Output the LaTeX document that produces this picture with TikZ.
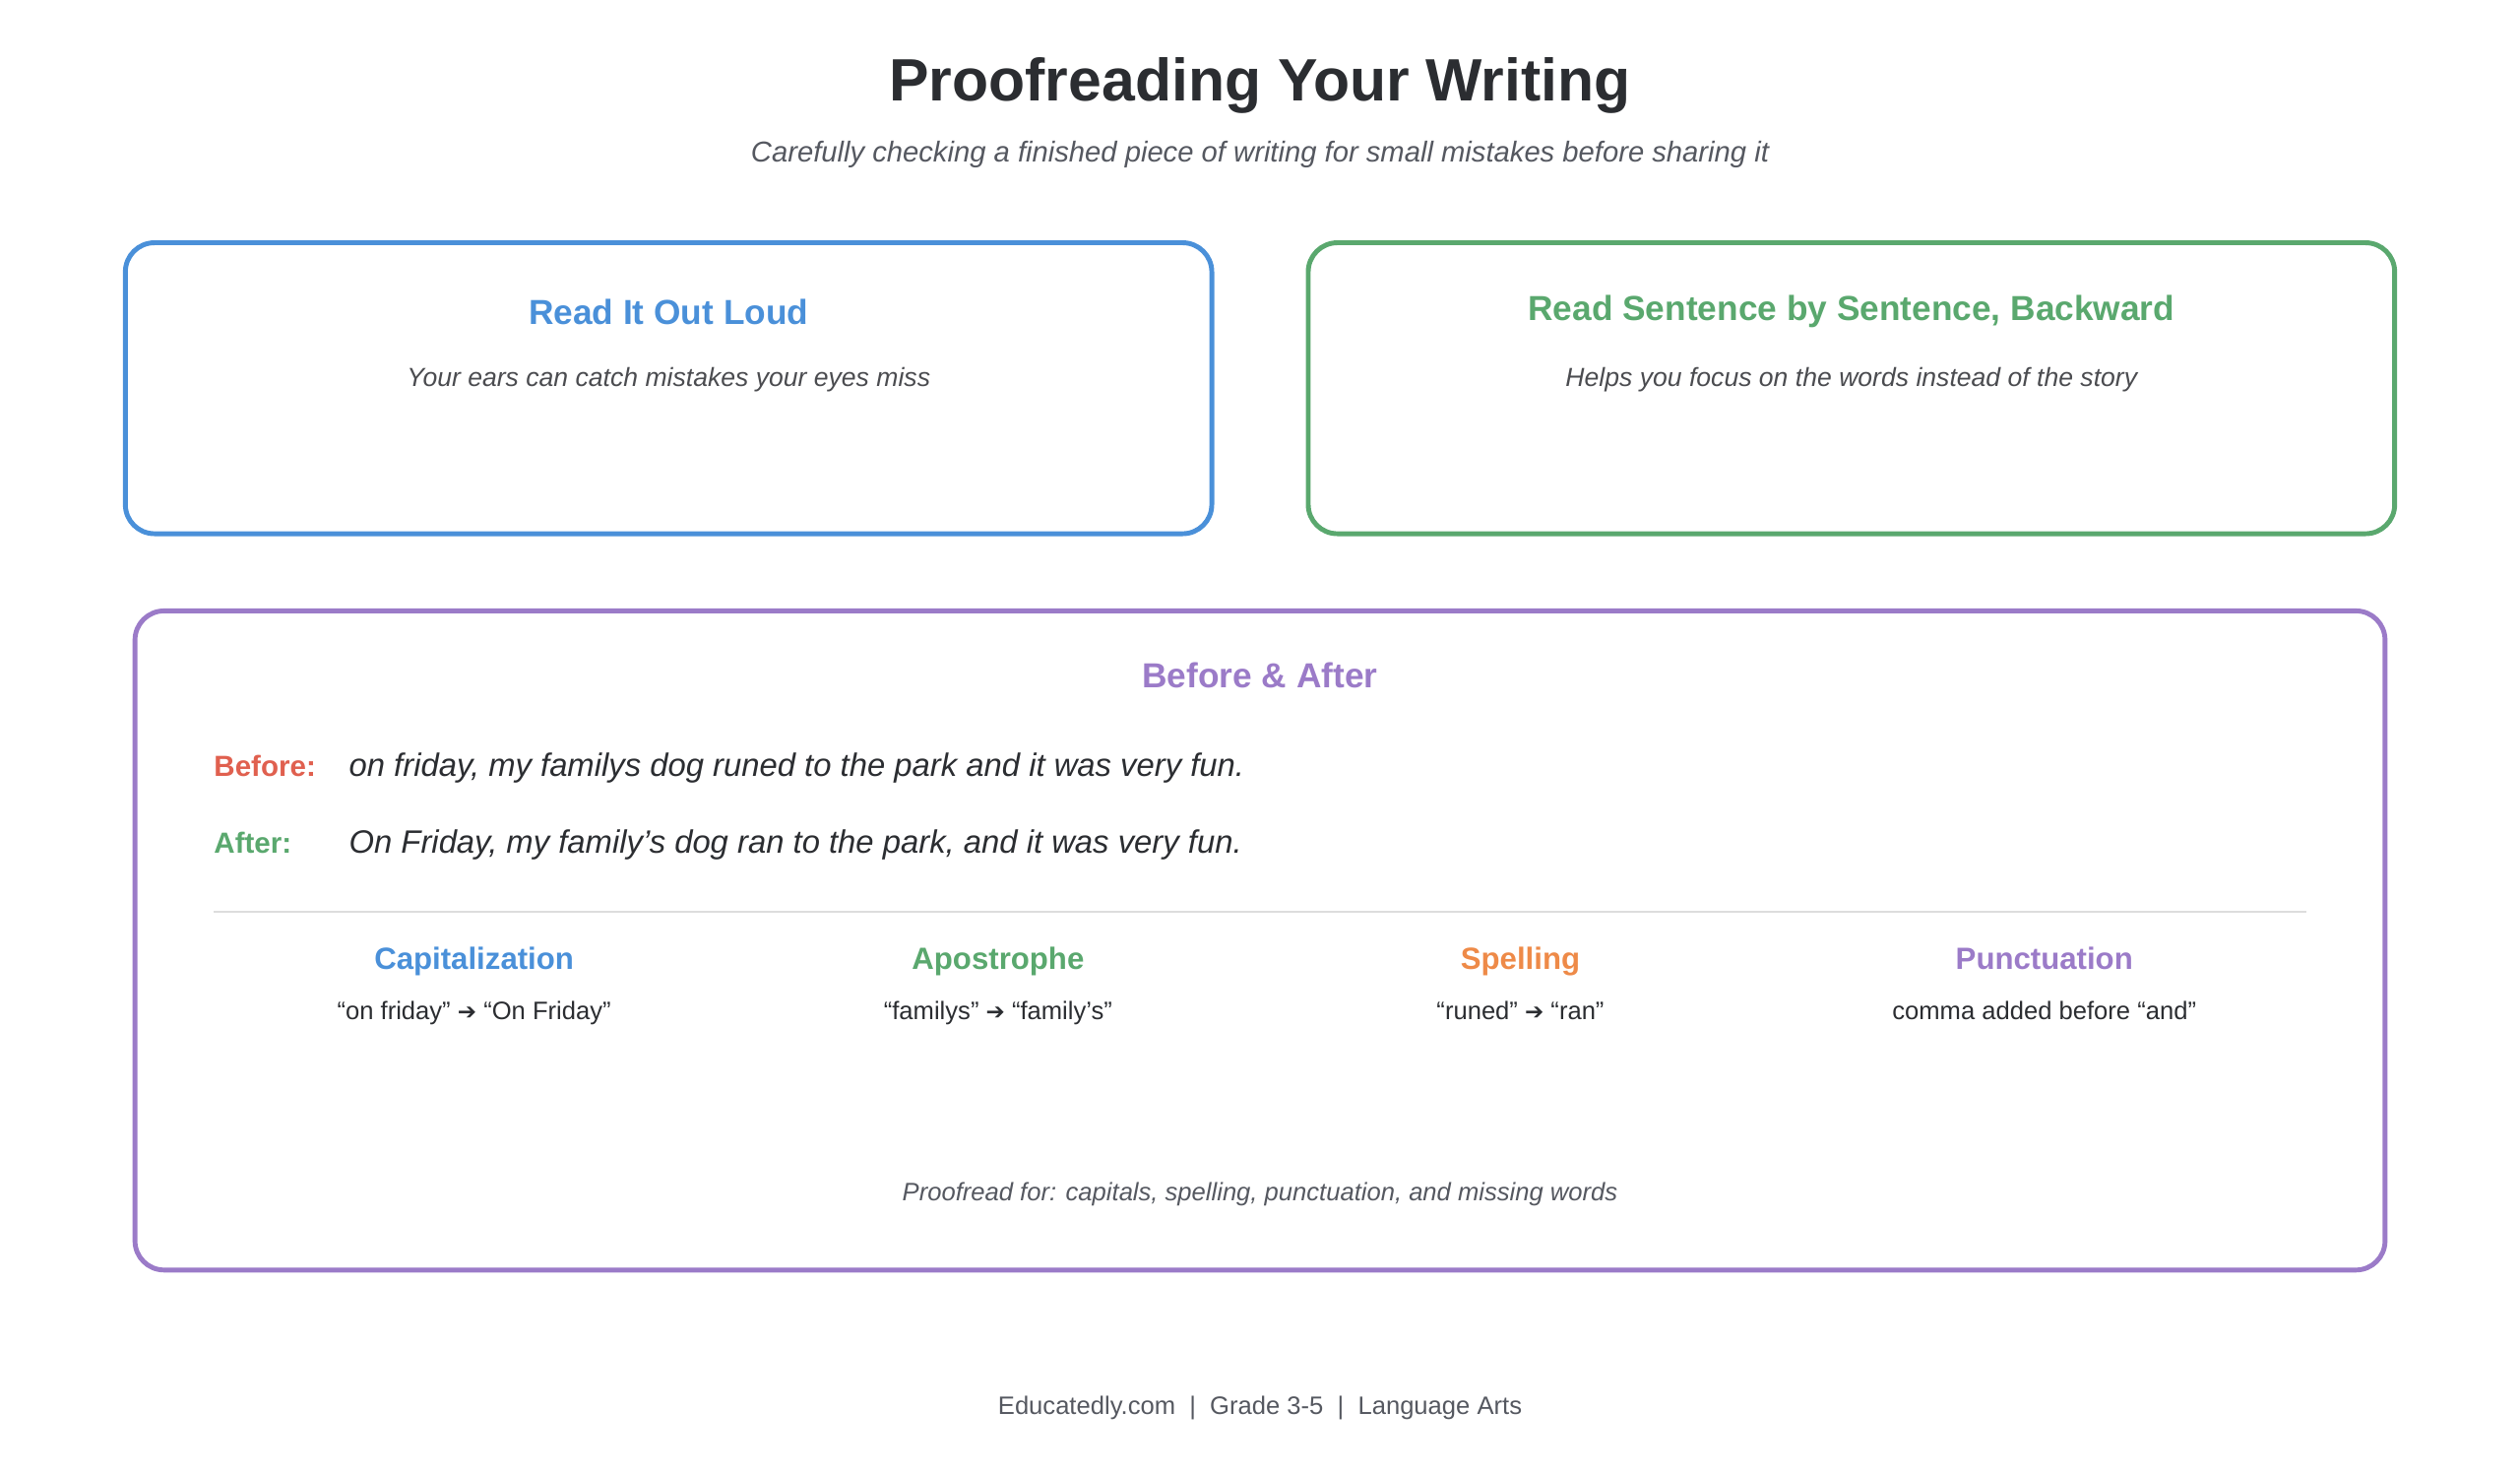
\documentclass[tikz,border=0pt]{standalone}
\usepackage{fontspec}
\setmainfont{Liberation Sans}
\newfontfamily\dejavu{DejaVu Sans}
\definecolor{ttl}{HTML}{2B2D31}
\definecolor{sub}{HTML}{555860}
\definecolor{cblue}{HTML}{4A90D9}
\definecolor{cgreen}{HTML}{5AA86E}
\definecolor{cpurple}{HTML}{9B7BC8}
\definecolor{cred}{HTML}{E0604F}
\definecolor{corange}{HTML}{EE8A48}
\definecolor{rule}{HTML}{DDDDDD}
\newcommand{\arr}{{\dejavu\bfseries\fontsize{14}{14}\selectfont ➔}}
\begin{document}
\begin{tikzpicture}[x=0.995pt,y=-0.995pt,
  card/.style={rounded corners=18pt,line width=3pt},
  ctitle/.style={font=\bfseries\fontsize{21.5}{26}\selectfont},
  csub/.style={font=\itshape\fontsize{16.2}{20}\selectfont,text=ttl!85},
  colh/.style={font=\bfseries\fontsize{19}{23}\selectfont,anchor=base},
  colt/.style={font=\fontsize{15.6}{19}\selectfont,text=ttl,anchor=base},
  lab/.style={font=\bfseries\fontsize{18}{22}\selectfont,anchor=base west},
  sent/.style={font=\itshape\fontsize{20}{24}\selectfont,anchor=base west,text=ttl}]
\useasboundingbox (0,0) rectangle (1568,917);
\node (title) at (784,53) {\bfseries\fontsize{37}{44}\selectfont\color{ttl}Proofreading Your Writing};
\node (subtitle) at (784,96) {\itshape\fontsize{17.8}{22}\selectfont\color{sub}Carefully checking a finished piece of writing for small mistakes before sharing it};
\draw[card,cblue] (78,151) rectangle (754,332);
\node[ctitle,text=cblue] (t1) at (416,194) {Read It Out Loud};
\node[csub] (s1) at (416,236) {Your ears can catch mistakes your eyes miss};
\draw[card,cgreen] (814,151) rectangle (1490,332);
\node[ctitle,text=cgreen] (t2) at (1152,194) {Read Sentence by Sentence, Backward};
\node[csub] (s2) at (1152,236) {Helps you focus on the words instead of the story};
\draw[card,cpurple] (84,380) rectangle (1484,790);
\node[ctitle,text=cpurple] (t3) at (784,420) {Before \& After};
\node[lab,text=cred,inner sep=0] (bl) at (133,483) {Before:};
\node[sent,inner sep=0] (bt) at (217,483) {on friday, my familys dog runed to the park and it was very fun.};
\node[lab,text=cgreen,inner sep=0] (al) at (133,531) {After:};
\node[sent,inner sep=0] (at) at (217,531) {On Friday, my family's dog ran to the park, and it was very fun.};
\draw[rule,line width=1pt] (133,567) -- (1435,567);
\node[colh,text=cblue] (h1) at (295,603) {Capitalization};
\node[colt] (c1) at (295,634) {“on friday” \arr{} “On Friday”};
\node[colh,text=cgreen] (h2) at (621,603) {Apostrophe};
\node[colt] (c2) at (621,634) {“familys” \arr{} “family’s”};
\node[colh,text=corange] (h3) at (946,603) {Spelling};
\node[colt] (c3) at (946,634) {“runed” \arr{} “ran”};
\node[colh,text=cpurple] (h4) at (1272,603) {Punctuation};
\node[colt] (c4) at (1272,634) {comma added before “and”};
\node[font=\itshape\fontsize{15.6}{19}\selectfont,text=sub] (foot) at (784,743) {Proofread for: capitals, spelling, punctuation, and missing words};
\node[font=\fontsize{15.6}{19}\selectfont,text=sub] (credit) at (784,876) {Educatedly.com \ | \ Grade 3-5 \ | \ Language Arts};
\end{tikzpicture}
\end{document}
